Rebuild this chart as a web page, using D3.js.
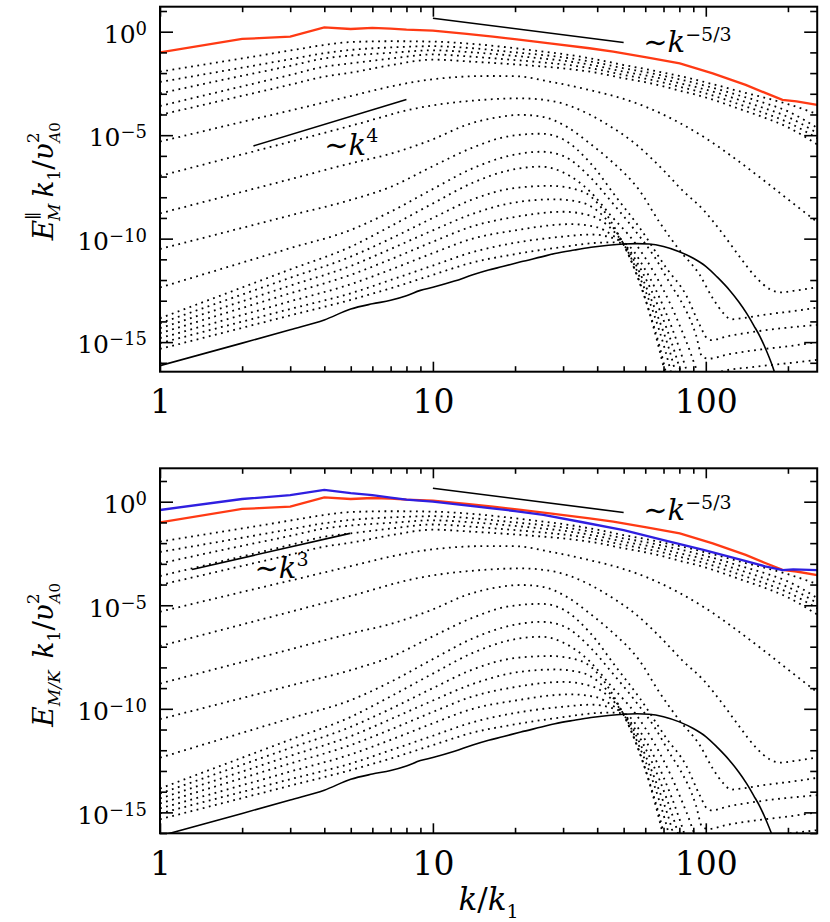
<!DOCTYPE html>
<html><head><meta charset="utf-8">
<script src="https://cdn.jsdelivr.net/npm/d3@7"></script>
<style>body{margin:0;background:#fff} text{font-family:'DejaVu Serif', serif;}</style>
</head><body>
<svg id="chart" width="830" height="922"></svg>
<script>
// ---------- DATA (values are log10 of E k1/vA0^2) ----------
const kMajor = [1, 10, 100];
const kMinor = [2,3,4,5,6,7,8,9,20,30,40,50,60,70,80,90,200];
const yMajorExp = [0, -5, -10, -15];
const yMinorExp = [1,-1,-2,-3,-4,-6,-7,-8,-9,-11,-12,-13,-14,-16];

// late-time bundle of dotted spectra, sampled on a common k grid
const kBundle = [1,2,3,4,5,7,10,14,20,25,30,40,50,60,70,80,90,100,115,130,160,200,256];
const bundle1 = [-1.93,-1.29,-0.91,-0.64,-0.50,-0.46,-0.48,-0.59,-0.80,-0.95,-1.08,-1.35,-1.61,-1.80,-1.98,-2.14,-2.29,-2.45,-2.65,-2.85,-3.15,-3.50,-3.98];
const bundle2 = [-2.43,-1.74,-1.33,-1.04,-0.88,-0.76,-0.70,-0.80,-1.00,-1.12,-1.24,-1.50,-1.77,-1.95,-2.13,-2.30,-2.46,-2.62,-2.84,-3.05,-3.40,-3.85,-4.65];
const bundle3 = [-2.98,-2.13,-1.65,-1.29,-1.15,-1.02,-0.90,-1.00,-1.17,-1.29,-1.40,-1.66,-1.93,-2.11,-2.29,-2.49,-2.64,-2.80,-3.03,-3.26,-3.65,-4.12,-4.90];
const bundle4 = [-3.59,-2.64,-2.09,-1.69,-1.53,-1.30,-1.10,-1.21,-1.37,-1.48,-1.58,-1.82,-2.09,-2.27,-2.46,-2.66,-2.82,-2.98,-3.23,-3.47,-3.88,-4.38,-5.15];
const bundle5 = [-4.02,-3.10,-2.56,-2.17,-1.98,-1.62,-1.35,-1.45,-1.58,-1.68,-1.77,-1.99,-2.25,-2.44,-2.64,-2.85,-3.01,-3.18,-3.44,-3.69,-4.10,-4.62,-5.45];

// earlier dotted spectra, [k, log10 E]
const n12 = [[1,-5.31],[2,-4.36],[3,-3.81],[5,-3.11],[7,-2.65],[9,-2.38],[12,-2.2],[16,-2.14],[20,-2.15],[27,-2.42],[37.5,-2.82],[50,-3.25],[60,-3.62],[80,-4.4],[100,-5.15],[130,-6.2],[160,-7.1],[200,-8.1],[256,-9.2]];
const n11 = [[1,-6.97],[2,-5.93],[3,-5.32],[5,-4.55],[8.7,-3.70],[15,-3.30],[21,-3.22],[28,-3.38],[37.5,-4.0],[45,-4.6],[55,-5.4],[70,-6.7],[82,-7.66],[98,-8.61],[115,-9.74],[133,-10.87],[152,-11.84],[172,-12.45],[188,-12.6],[210,-12.52],[256,-12.35]];
const n10 = [[1,-8.78],[2,-7.74],[3,-7.13],[5,-6.36],[7,-5.9],[10,-5.2],[13.3,-4.5],[17,-4.15],[21,-4.02],[25,-4.1],[31,-4.6],[37.5,-5.39],[45,-6.25],[57,-7.65],[67.6,-9.2],[80,-10.55],[95,-11.75],[106,-12.88],[116,-13.6],[124,-13.9],[135,-13.85],[170,-13.65],[210,-13.5],[256,-13.33]];
const n9 = [[1,-10.5],[2,-9.48],[3,-8.88],[5,-8.13],[7,-7.5],[10,-6.5],[14,-5.6],[19,-5.05],[25,-4.93],[30,-5.2],[37.5,-6.3],[47,-8.0],[57.4,-9.5],[71.8,-11.43],[84.6,-12.72],[95,-14.17],[101,-14.81],[105,-14.9],[120,-14.72],[160,-14.45],[200,-14.3],[256,-14.17]];
const n8 = [[1,-12.36],[2,-11.16],[3,-10.46],[5,-9.58],[7,-8.7],[10,-7.6],[14,-6.6],[19,-6.0],[25,-5.80],[30,-6.0],[37.5,-7.0],[45,-8.2],[55,-9.6],[65,-10.9],[75,-12.3],[80,-12.88],[92,-14.65],[97,-15.7],[102,-15.8],[120,-15.6],[160,-15.35],[200,-15.2],[256,-15.0]];
const n7 = [[1,-13.85],[2,-12.36],[3,-11.49],[5,-10.39],[7,-9.4],[10,-8.3],[14,-7.3],[19,-6.7],[25,-6.52],[30,-6.8],[37.5,-7.7],[45,-8.9],[55,-10.2],[65,-11.7],[75,-13.3],[85,-15.0],[95,-16.6],[102,-16.9],[113,-16.43],[150,-16.2],[200,-16.02],[256,-15.86]];
const n6 = [[1,-14.09],[2,-12.70],[3,-11.89],[5,-10.87],[7,-10.0],[10,-9.0],[14,-8.1],[20,-7.55],[27,-7.45],[35,-7.7],[42,-8.6],[50,-10.3],[55,-11.5],[60,-12.9],[65,-14.5],[70,-16.2],[75,-18]];
const n5 = [[1,-14.33],[2,-13.03],[3,-12.27],[5,-11.32],[7,-10.5],[10,-9.6],[14,-8.8],[20,-8.25],[28,-8.1],[35,-8.25],[42,-8.9],[50,-10.28],[56,-11.8],[62,-13.5],[68,-15.3],[73,-17],[80,-19]];
const n4 = [[1,-14.57],[2,-13.35],[3,-12.64],[5,-11.75],[7,-11.0],[10,-10.15],[14,-9.4],[20,-8.95],[30,-8.7],[38,-8.9],[44,-9.4],[50,-10.26],[57,-11.8],[64,-13.5],[71,-15.4],[77,-17.2]];
const n3 = [[1,-14.81],[2,-13.69],[3,-13.03],[5,-12.2],[7,-11.5],[10,-10.7],[14,-10.0],[20,-9.6],[32,-9.3],[40,-9.45],[45,-9.8],[50,-10.25],[58,-11.8],[66,-13.6],[74,-15.5],[80,-17.2]];
const n2 = [[1,-15.05],[2,-14.01],[3,-13.40],[5,-12.64],[7,-12.0],[10,-11.3],[14,-10.65],[20,-10.2],[30,-9.9],[38,-9.8],[45,-9.95],[50,-10.24],[59,-11.7],[68,-13.5],[77,-15.5],[84,-17.2]];
const n1 = [[1,-15.33],[2,-14.31],[3,-13.71],[5,-12.96],[7,-12.4],[10,-11.75],[14,-11.15],[20,-10.75],[30,-10.4],[40,-10.2],[45,-10.18],[50,-10.22],[60,-11.5],[70,-13.3],[80,-15.3],[88,-17]];

// initial spectrum (solid black)
const initialSpectrum = [[1,-16.14],[2,-15.05],[3,-14.4],[4,-13.93],[5,-13.4],[6,-13.15],[7,-12.98],[8,-12.76],[9,-12.5],[10,-12.35],[12,-12.05],[14,-11.75],[16,-11.52],[18,-11.35],[21,-11.12],[25,-10.88],[28,-10.72],[33,-10.55],[38,-10.42],[44,-10.32],[50,-10.26],[56,-10.24],[62,-10.26],[70,-10.38],[80,-10.63],[90,-10.95],[100,-11.34],[110,-11.85],[122,-12.48],[132,-13.05],[141,-13.6],[150,-14.2],[158,-14.73],[166,-15.35],[174,-16.02],[180,-16.6],[186,-17.3]];
// final magnetic spectrum (red)
const finalMagnetic = [[1,-1.0],[2,-0.35],[3,-0.24],[4,0.21],[5,0.13],[6,0.18],[7,0.15],[8,0.10],[10,0.05],[13.3,-0.11],[16.6,-0.24],[20.3,-0.37],[26.8,-0.56],[37.5,-0.80],[45.8,-0.96],[60.7,-1.24],[80.3,-1.53],[106,-2.01],[140,-2.57],[166,-2.97],[191,-3.29],[215,-3.37],[256,-3.54]];
// final kinetic spectrum (blue, lower panel)
const finalKinetic = [[1,-0.40],[2,0.13],[3,0.32],[4,0.57],[5,0.41],[6,0.32],[7,0.2],[8,0.1],[10,0.0],[14.5,-0.24],[20,-0.45],[25.4,-0.64],[35,-0.98],[50,-1.37],[70,-1.85],[98,-2.33],[136,-2.82],[165,-3.12],[191,-3.30],[209,-3.27],[256,-3.30]];

// reference power laws
const guideKm53 = [[10,0.65],[50,-0.52]];
const guideK4 = [[2.2,-5.52],[8.0,-3.28]];
const guideK3 = [[1.31,-3.27],[4.97,-1.53]];

const bundles = [bundle1,bundle2,bundle3,bundle4,bundle5].map(b => kBundle.map((k,i)=>[k,b[i]]));
const dottedSpectra = [...bundles, n12,n11,n10,n9,n8,n7,n6,n5,n4,n3,n2,n1];

// ---------- LAYOUT ----------
const svg = d3.select("#chart");
const FONT = "'DejaVu Serif', serif";
const xLeft = 160, xRight = 817.2;
const panels = [
  {id:"top", top:6.7, bottom:371.7, eMax:1.208, eMin:-16.43, blue:false, guideLow:guideK4, lowLabel:{k:4.0, e:-5.95, sup:"4", dy:-13},
   highLabel:{k:59.0, e:-0.966, sup:"−5/3", dy:-11}, title:"par"},
  {id:"bot", top:468.3, bottom:833.3, eMax:1.613, eMin:-16.01, blue:true, guideLow:guideK3, lowLabel:{k:2.22, e:-3.68, sup:"3", dy:-12},
   highLabel:{k:59.0, e:-0.88, sup:"−5/3", dy:-11}, title:"tot"}
];

const x = d3.scaleLog().domain([1,256]).range([xLeft,xRight]);

panels.forEach(p => {
  const y = d3.scaleLog().domain([Math.pow(10,p.eMin), Math.pow(10,p.eMax)]).range([p.bottom,p.top]);
  const ye = e => y(Math.pow(10,e));
  const g = svg.append("g");
  const clipId = "clip-"+p.id;
  svg.append("clipPath").attr("id",clipId).append("rect")
    .attr("x",xLeft).attr("y",p.top).attr("width",xRight-xLeft).attr("height",p.bottom-p.top);
  const plot = g.append("g").attr("clip-path",`url(#${clipId})`);
  const lineSmooth = d3.line().x(d=>x(d[0])).y(d=>ye(d[1])).curve(d3.curveMonotoneX);
  const lineLin = d3.line().x(d=>x(d[0])).y(d=>ye(d[1]));

  plot.selectAll("path.dot").data(dottedSpectra).join("path")
    .attr("class","dot").attr("d",lineSmooth)
    .attr("fill","none").attr("stroke","#000").attr("stroke-width",1.8)
    .attr("stroke-dasharray","1.8 4.5");
  plot.append("path").datum(initialSpectrum).attr("d",lineSmooth)
    .attr("fill","none").attr("stroke","#000").attr("stroke-width",1.6);
  plot.append("path").datum(finalMagnetic).attr("d",lineLin)
    .attr("fill","none").attr("stroke","#ff3a14").attr("stroke-width",2.3);
  if (p.blue) {
    plot.append("path").datum(finalKinetic).attr("d",lineLin)
      .attr("fill","none").attr("stroke","#2f1fe0").attr("stroke-width",2.3);
  }
  [guideKm53, p.guideLow].forEach(gd => {
    plot.append("path").datum(gd).attr("d",lineLin)
      .attr("fill","none").attr("stroke","#000").attr("stroke-width",1.6);
  });

  // axes: inward ticks on all four sides
  const axisStyle = sel => { sel.select(".domain").remove(); sel.selectAll("line").attr("stroke-width",1.6); };
  g.append("g").attr("transform",`translate(0,${p.bottom})`)
    .call(d3.axisBottom(x).tickValues(kMinor).tickSize(-5.5).tickFormat("")).call(axisStyle);
  g.append("g").attr("transform",`translate(0,${p.top})`)
    .call(d3.axisTop(x).tickValues(kMinor).tickSize(-5.5).tickFormat("")).call(axisStyle);
  g.append("g").attr("transform",`translate(0,${p.top})`)
    .call(d3.axisTop(x).tickValues(kMajor).tickSize(-10).tickFormat("")).call(axisStyle);
  const xb = g.append("g").attr("transform",`translate(0,${p.bottom})`)
    .call(d3.axisBottom(x).tickValues(kMajor).tickSize(-10).tickPadding(18).tickFormat(d3.format("d"))).call(axisStyle);
  xb.selectAll("text").style("font-family",FONT).attr("font-size",33).attr("fill","#000");

  const minorVals = yMinorExp.filter(e => e < p.eMax && e > p.eMin).map(e=>Math.pow(10,e));
  const majorVals = yMajorExp.map(e=>Math.pow(10,e));
  g.append("g").attr("transform",`translate(${xLeft},0)`)
    .call(d3.axisLeft(y).tickValues(minorVals).tickSize(-7).tickFormat("")).call(axisStyle);
  g.append("g").attr("transform",`translate(${xLeft},0)`)
    .call(d3.axisLeft(y).tickValues(majorVals).tickSize(-13).tickFormat("")).call(axisStyle);
  g.append("g").attr("transform",`translate(${xRight},0)`)
    .call(d3.axisRight(y).tickValues(minorVals).tickSize(-7).tickFormat("")).call(axisStyle);
  g.append("g").attr("transform",`translate(${xRight},0)`)
    .call(d3.axisRight(y).tickValues(majorVals).tickSize(-13).tickFormat("")).call(axisStyle);

  g.append("rect").attr("x",xLeft).attr("y",p.top).attr("width",xRight-xLeft).attr("height",p.bottom-p.top)
    .attr("fill","none").attr("stroke","#000").attr("stroke-width",2);

  // y tick labels 10^n
  yMajorExp.forEach(e => {
    const t = g.append("text").attr("x",147).attr("y",ye(e)+11.3)
      .attr("text-anchor","end").style("font-family",FONT).attr("font-size",25);
    t.append("tspan").text("10");
    t.append("tspan").attr("font-size",18).attr("dy",-8).text(e===0 ? "0" : "−"+(-e));
  });

  // power-law labels
  const powerLabel = (lab) => {
    const t = g.append("text").attr("x",x(lab.k)).attr("y",ye(lab.e))
      .style("font-family",FONT).attr("font-size",29);
    t.append("tspan").text("∼");
    t.append("tspan").attr("font-style","italic").text("k");
    t.append("tspan").attr("font-size",19).attr("dy",lab.dy).text(lab.sup);
  };
  powerLabel(p.highLabel);
  powerLabel(p.lowLabel);

  // y-axis title
  const cy = (p.top+p.bottom)/2 + (p.title==="par" ? -8 : 4);
  const tt = g.append("text").attr("transform",`translate(53,${cy}) rotate(-90)`)
    .attr("text-anchor","middle").style("font-family",FONT).attr("font-size",28);
  tt.append("tspan").attr("font-style","italic").text("E");
  if (p.title==="par") {
    tt.append("tspan").attr("font-size",17).attr("dy",-14).text("∥");
    tt.append("tspan").attr("font-size",17).attr("font-style","italic").attr("dx",-9).attr("dy",21).text("M");
  } else {
    tt.append("tspan").attr("font-size",17).attr("font-style","italic").attr("dy",7).text("M/K");
  }
  tt.append("tspan").attr("font-style","italic").attr("dy",-7).attr("dx",p.title==="par"?6:12).text("k");
  tt.append("tspan").attr("font-size",17).attr("dy",7).text("1");
  tt.append("tspan").attr("dy",-7).text("/");
  tt.append("tspan").attr("font-style","italic").text("υ");
  tt.append("tspan").attr("font-size",17).attr("dy",-14).text("2");
  tt.append("tspan").attr("font-size",15).attr("font-style","italic").attr("dx",-10).attr("dy",21).text("A");
  tt.append("tspan").attr("font-size",15).text("0");
});

// x-axis title
const xt = svg.append("text").attr("x",(xLeft+xRight)/2).attr("y",910)
  .attr("text-anchor","middle").style("font-family",FONT).attr("font-size",31);
xt.append("tspan").attr("font-style","italic").text("k");
xt.append("tspan").text("/");
xt.append("tspan").attr("font-style","italic").text("k");
xt.append("tspan").attr("font-size",19).attr("dy",8).text("1");
</script>
</body></html>
